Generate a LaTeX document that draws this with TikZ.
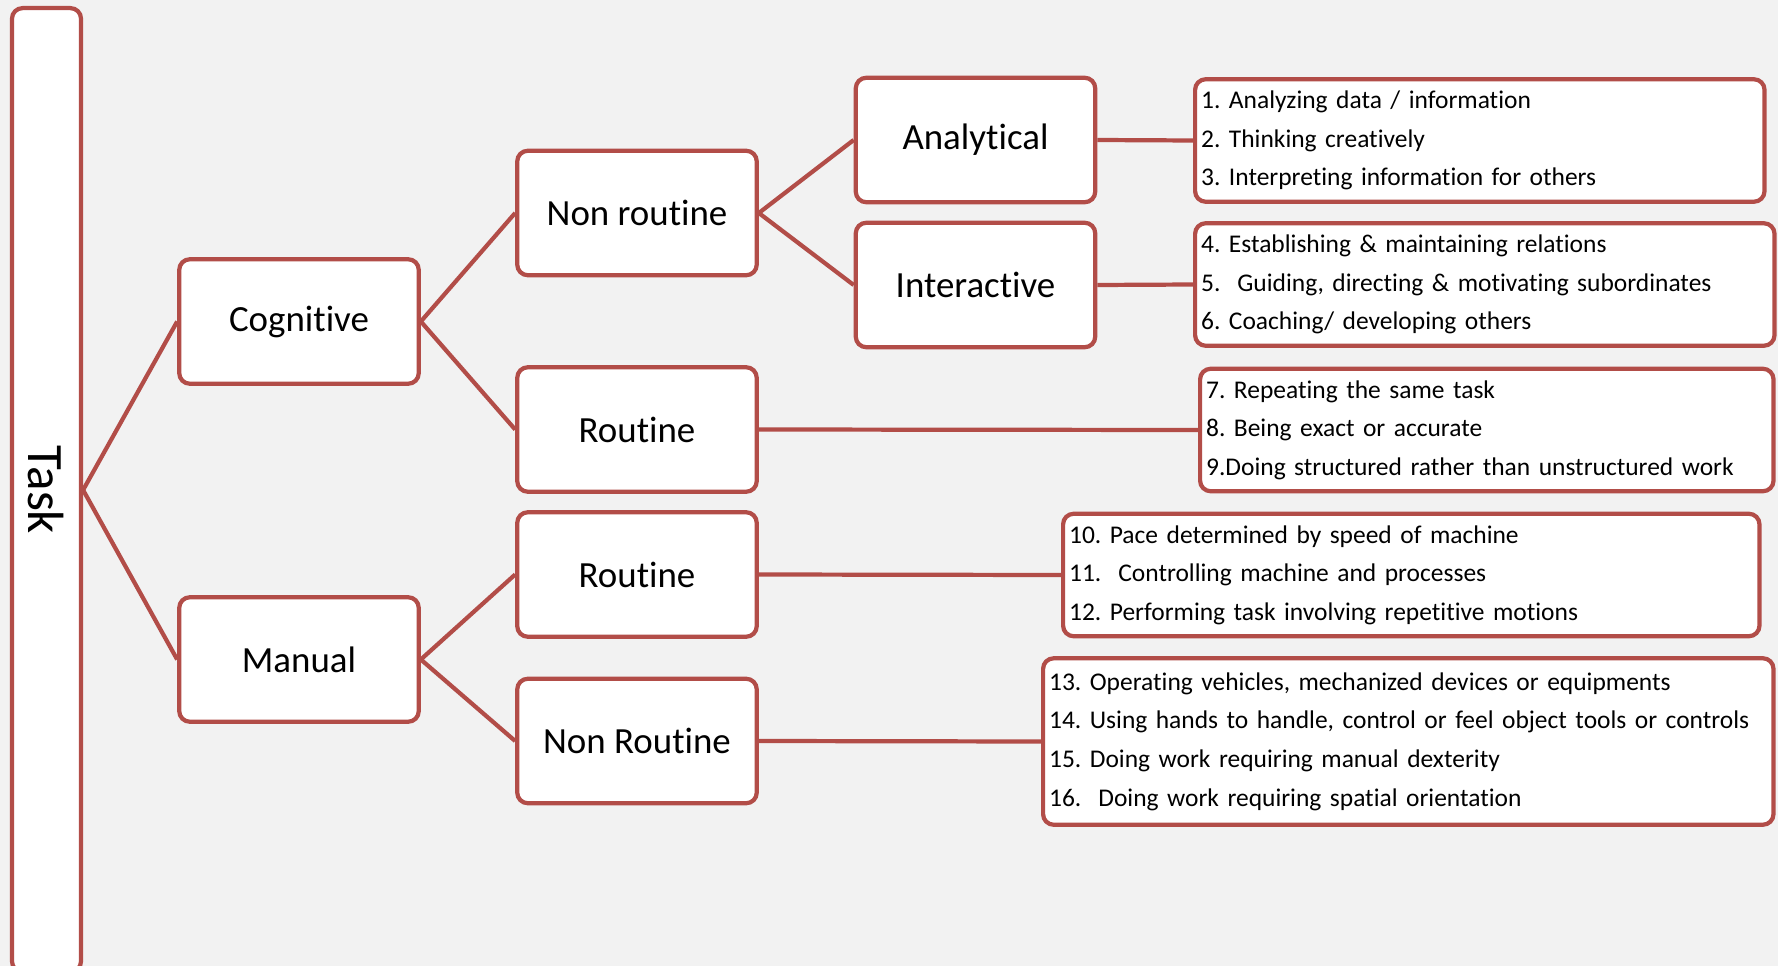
\documentclass[tikz,border=0pt]{standalone}
\usepackage{fontspec}
\setmainfont{Carlito}[Ligatures=NoCommon]
\frenchspacing
\usepackage{tikz}
\definecolor{boxred}{RGB}{178,77,72}
\definecolor{bggray}{RGB}{242,242,242}
\tikzset{
catbox/.style={ % Sets the properties for each category box
draw=boxred,
line width=2.4pt,
fill=white,
rounded corners=6pt,
inner sep=0pt,
minimum width=4.79cm,
minimum height=2.49cm,
font=\fontsize{21}{25}\selectfont},
listbox/.style={ % Sets the properties for each list of tasks
draw=boxred,
line width=2.4pt,
fill=white,
rounded corners=6pt,
anchor=west,
align=left,
inner xsep=0.12cm,
inner ysep=0pt,
minimum height=2.45cm,
font=\fontsize{14.5}{22}\selectfont},
every edge/.style={ % Sets the properties for each connector
draw=boxred,
line width=2.4pt}}

\begin{document}
\begin{tikzpicture}[x=0.02cm, y=-0.02cm]
\useasboundingbox (0,0) rectangle (1778,966);
\clip (0,0) rectangle (1778,966);
\fill[bggray] (0,0) rectangle (1778,966);
\node[catbox, minimum width=1.38cm, minimum height=19.28cm, font=\fontsize{29}{32}\selectfont] (task) at (46.5,490) {\rotatebox{-90}{Task}};
\node[catbox] (cog) at (299,321.5) {Cognitive};
\node[catbox] (man) at (299,659.5) {Manual};
\node[catbox] (nonrc) at (637,213) {Non routine};
\node[catbox] (routc) at (637,429.5) {Routine};
\node[catbox] (routm) at (637,574.5) {Routine};
\node[catbox] (nonrm) at (637,741) {Non Routine};
\node[catbox] (ana) at (975.5,140) {Analytical};
\node[catbox] (inter) at (975.5,285) {Interactive};
\node[listbox, text width=11.15cm] (lana) at (1193,140.5) {1. Analyzing data / information\\2. Thinking creatively\\3. Interpreting information for others};
\node[listbox, text width=11.35cm] (linter) at (1193,284.5) {4. Establishing \& maintaining relations\\5.~ Guiding, directing \& motivating subordinates\\6. Coaching/ developing others};
\node[listbox, text width=11.23cm] (lroutc) at (1198,430) {7. Repeating the same task\\8. Being exact or accurate\\9.Doing structured rather than unstructured work};
\node[listbox, text width=13.69cm] (lroutm) at (1061,575) {10. Pace determined by speed of machine\\11.~ Controlling machine and processes\\12. Performing task involving repetitive motions};
\node[listbox, text width=14.37cm, minimum height=3.33cm] (lnonrm) at (1041,741.5) {13. Operating vehicles, mechanized devices or equipments\\14. Using hands to handle, control or feel object tools or controls\\15. Doing work requiring manual dexterity\\16.~ Doing work requiring spatial orientation};
\draw (task.east) edge (cog.west);
\draw (task.east) edge (man.west);
\draw (cog.east) edge (nonrc.west);
\draw (cog.east) edge (routc.west);
\draw (man.east) edge (routm.west);
\draw (man.east) edge (nonrm.west);
\draw (nonrc.east) edge (ana.west);
\draw (nonrc.east) edge (inter.west);
\draw (ana.east) edge (lana.west);
\draw (inter.east) edge (linter.west);
\draw (routc.east) edge (lroutc.west);
\draw (routm.east) edge (lroutm.west);
\draw (nonrm.east) edge (lnonrm.west);
\end{tikzpicture}
\end{document}
